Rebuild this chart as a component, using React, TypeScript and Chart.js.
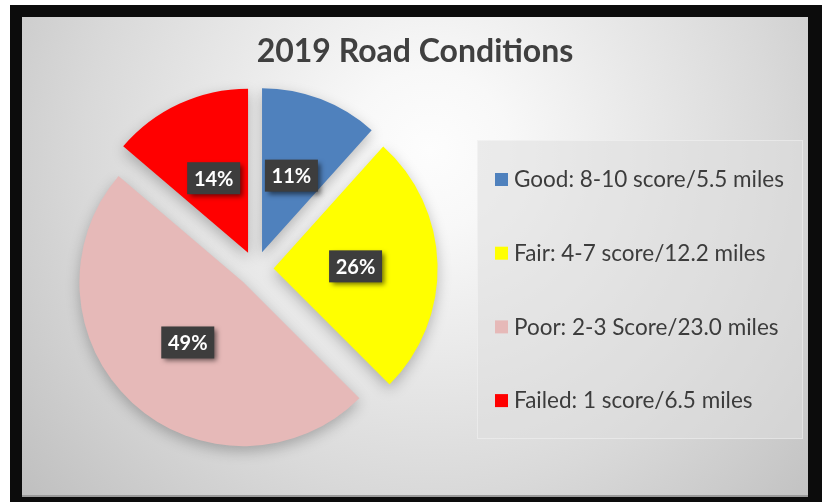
import React, { useEffect, useRef } from "react";
import { Chart, registerables } from "chart.js";

Chart.register(...registerables);

const title = "2019 Road Conditions";
const categories = [
  "Good: 8-10 score/5.5 miles",
  "Fair: 4-7 score/12.2 miles",
  "Poor: 2-3 Score/23.0 miles",
  "Failed: 1 score/6.5 miles",
];
const miles = [5.5, 12.2, 23.0, 6.5];
const percentLabels = ["11%", "26%", "49%", "14%"];
const colors = ["#4f81bd", "#ffff00", "#e6b9b8", "#ff0000"];

const W = 822;
const H = 502;
const EXPLODE = 18;

const backgroundPlugin = {
  id: "bgFrame",
  beforeDraw(chart: any) {
    const ctx = chart.ctx as CanvasRenderingContext2D;
    ctx.save();
    ctx.fillStyle = "#ffffff";
    ctx.fillRect(0, 0, W, H);
    ctx.fillStyle = "#0c0c0c";
    ctx.fillRect(10, 5, W - 10, H - 5);
    const g = ctx.createRadialGradient(430, 150, 0, 430, 150, 530);
    g.addColorStop(0, "#fdfdfd");
    g.addColorStop(0.15, "#f8f8f8");
    g.addColorStop(0.65, "#d9d9d9");
    g.addColorStop(1, "#c0c0c0");
    ctx.fillStyle = g;
    ctx.fillRect(22, 17, 786, 480);
    ctx.fillStyle = "#9a9a9a";
    ctx.fillRect(22, 495, 786, 2);
    // legend panel
    ctx.fillStyle = "rgba(222,222,222,0.55)";
    ctx.fillRect(477, 140, 326, 299);
    ctx.strokeStyle = "rgba(255,255,255,0.35)";
    ctx.lineWidth = 1;
    ctx.strokeRect(477.5, 140.5, 325, 298);
    // title
    ctx.fillStyle = "#404040";
    ctx.font = "bold 32px Lato";
    ctx.textAlign = "center";
    ctx.textBaseline = "middle";
    ctx.fillText(title, 415, 52);
    // legend
    ctx.font = "22.5px Lato";
    ctx.textAlign = "left";
    categories.forEach((c, i) => {
      const y = 179 + i * 73.7;
      ctx.fillStyle = colors[i];
      ctx.fillRect(495, y - 6, 13, 13);
      ctx.fillStyle = "#3c3c3c";
      ctx.fillText(c, 514, y + 1);
    });
    ctx.restore();
  },
  beforeDatasetDraw(chart: any, args: any) {
    const ctx = chart.ctx as CanvasRenderingContext2D;
    const meta = args.meta;
    meta.data.forEach((arc: any) => {
      const { startAngle, endAngle } = arc.getProps(["startAngle", "endAngle"], true);
      const a = (startAngle + endAngle) / 2;
      ctx.save();
      ctx.shadowColor = "rgba(0,0,0,0.25)";
      ctx.shadowBlur = 14;
      ctx.shadowOffsetX = 0;
      ctx.shadowOffsetY = 5;
      ctx.translate(Math.cos(a) * EXPLODE, Math.sin(a) * EXPLODE);
      arc.draw(ctx);
      ctx.restore();
    });
    return false;
  },
  afterDatasetsDraw(chart: any) {
    const ctx = chart.ctx as CanvasRenderingContext2D;
    const meta = chart.getDatasetMeta(0);
    ctx.save();
    ctx.font = "bold 20px Lato";
    ctx.textAlign = "center";
    ctx.textBaseline = "middle";
    meta.data.forEach((arc: any, i: number) => {
      const { x, y, startAngle, endAngle, outerRadius } = arc.getProps(
        ["x", "y", "startAngle", "endAngle", "outerRadius"],
        true
      );
      const a = (startAngle + endAngle) / 2;
      const d = EXPLODE + outerRadius / 2;
      const cx = x + Math.cos(a) * d;
      const cy = y + Math.sin(a) * d;
      const bw = 53;
      const bh = 32;
      ctx.save();
      ctx.shadowColor = "rgba(0,0,0,0.55)";
      ctx.shadowBlur = 5;
      ctx.shadowOffsetX = 3;
      ctx.shadowOffsetY = 3;
      ctx.fillStyle = "#3d3d3d";
      ctx.fillRect(cx - bw / 2, cy - bh / 2, bw, bh);
      ctx.restore();
      ctx.fillStyle = "#ffffff";
      ctx.fillText(percentLabels[i], cx, cy + 1);
    });
    ctx.restore();
  },
};

export default function App() {
  const ref = useRef<HTMLCanvasElement | null>(null);
  useEffect(() => {
    if (!ref.current) return;
    const chart = new Chart(ref.current, {
      type: "pie",
      data: {
        labels: categories,
        datasets: [
          {
            data: miles,
            backgroundColor: colors,
            borderWidth: 0,
            offset: 0,
            radius: 164,
          } as any,
        ],
      },
      options: {
        animation: false,
        responsive: false,
        maintainAspectRatio: false,
        events: [],
        layout: {
          padding: { left: 75.6, right: 386.4, top: 89, bottom: 53 },
        },
        plugins: {
          legend: { display: false },
          title: { display: false },
          tooltip: { enabled: false },
        },
      },
      plugins: [backgroundPlugin],
    });
    return () => chart.destroy();
  }, []);
  return (
    <div style={{ position: "fixed", left: 0, top: 0, width: W, height: H }}>
      <canvas ref={ref} width={W} height={H} style={{ display: "block" }} />
    </div>
  );
}
